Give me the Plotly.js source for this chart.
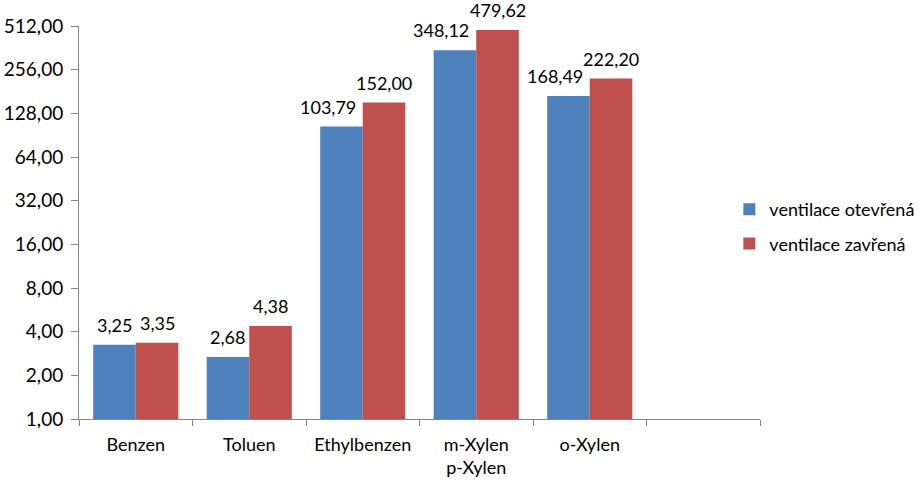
<!DOCTYPE html>
<html>
<head>
<meta charset="utf-8">
<script src="https://cdn.plot.ly/plotly-3.0.1.min.js"></script>
<style>
  html, body { margin: 0; padding: 0; background: #fff; }
  #chart { width: 919px; height: 481px; }
</style>
</head>
<body>
<div id="chart"></div>
<script>
// categories (last one is an empty slot, as in the source chart)
var latky = ["Benzen", "Toluen", "Ethylbenzen", "m-Xylen<br>p-Xylen", "o-Xylen", " "];
var otevrena = [3.25, 2.68, 103.79, 348.12, 168.49, null];
var zavrena = [3.35, 4.38, 152.00, 479.62, 222.20, null];
var yTicks = [1, 2, 4, 8, 16, 32, 64, 128, 256, 512];

var fnt = "Lato, 'Open Sans', sans-serif";
var W = 919, H = 481;
var mL = 79, mR = 159, mT = 26, mB = 62;
var gap = 0.25;

// half of one bar's width in px, to put labels over each bar of a group
var halfBar = (W - mL - mR) / latky.length * (1 - gap) / 4;
// px per doubling on the log axis
var pxPerDbl = (H - mT - mB) / Math.log2(512);

function fmt(v) { return v.toFixed(2).replace(".", ","); }

var labels = [];
for (var i = 0; i < latky.length; i++) {
  if (otevrena[i] == null) continue;
  // Excel nudges the blue label left when the taller red bar would cut it
  var rise = Math.log2(zavrena[i] / otevrena[i]) * pxPerDbl;
  var nudge = rise > 12 && rise < 30;
  labels.push({
    x: latky[i], y: Math.log10(otevrena[i]), text: fmt(otevrena[i]),
    xanchor: nudge ? "right" : "center", xshift: nudge ? -5 : -halfBar,
    yanchor: "bottom", yshift: 7, showarrow: false,
    font: {family: fnt, size: 18, color: "#000"}
  });
  labels.push({
    x: latky[i], y: Math.log10(zavrena[i]), text: fmt(zavrena[i]),
    xanchor: "center", xshift: halfBar,
    yanchor: "bottom", yshift: 7, showarrow: false,
    font: {family: fnt, size: 18, color: "#000"}
  });
}

var trace1 = {
  x: latky,
  y: otevrena,
  name: "ventilace otevřená",
  type: "bar",
  legendgroup: "a",
  marker: {color: "#4F81BD"},
  hoverinfo: "none"
};
var trace2 = {
  x: latky,
  y: zavrena,
  name: "ventilace zavřená",
  type: "bar",
  legendgroup: "b",
  marker: {color: "#C0504D"},
  hoverinfo: "none"
};

var layout = {
  width: W,
  height: H,
  margin: {l: mL, r: mR, t: mT, b: mB, autoexpand: false},
  separators: ", ",
  barmode: "group",
  bargap: gap,
  bargroupgap: 0,
  font: {family: fnt, size: 18, color: "#000"},
  paper_bgcolor: "#fff",
  plot_bgcolor: "#fff",
  showlegend: true,
  legend: {
    x: 0.955, xanchor: "left",
    y: 0.49, yanchor: "middle",
    traceorder: "grouped",
    tracegroupgap: 8,
    font: {family: fnt, size: 18, color: "#000"}
  },
  annotations: labels,
  xaxis: {
    type: "category",
    categoryorder: "array",
    categoryarray: latky,
    range: [-0.5, 5.5],
    tickson: "boundaries",
    tickangle: 0,
    ticks: "outside",
    ticklen: 6,
    tickcolor: "#868686",
    showline: true,
    linecolor: "#868686",
    linewidth: 1,
    showgrid: false,
    zeroline: false,
    ticklabelstandoff: 9,
    tickfont: {family: fnt, size: 18, color: "#000"}
  },
  yaxis: {
    type: "log",
    range: [0, Math.log10(512)],
    tickmode: "array",
    tickvals: yTicks,
    tickformat: ".2f",
    ticks: "outside",
    ticklen: 7,
    tickcolor: "#868686",
    showline: true,
    linecolor: "#868686",
    linewidth: 1,
    showgrid: false,
    zeroline: false,
    ticklabelstandoff: 4,
    tickfont: {family: fnt, size: 19, color: "#000"}
  }
};

Plotly.newPlot("chart", [trace1, trace2], layout, {displayModeBar: false, staticPlot: true});
</script>
</body>
</html>
